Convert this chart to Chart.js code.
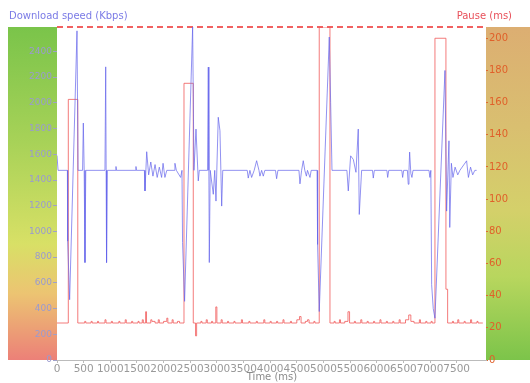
<!DOCTYPE html>
<html>
<head>
<meta charset="utf-8">
<script src="https://cdn.jsdelivr.net/npm/chart.js@4/dist/chart.umd.min.js"></script>
<style>
  body { margin: 0; background: #fff; }
  #wrap { width: 530px; height: 383px; position: relative; }
</style>
</head>
<body>
<div id="wrap"><canvas id="speedChart"></canvas></div>
<script>
// Download speed (Kbps) samples, time in ms
var speedTime = [0, 20, 195, 200, 237, 375, 395, 480, 494, 510, 525, 540, 900, 914, 922, 930, 945,
  1100, 1107, 1115, 1475, 1482, 1490, 1640, 1651, 1683, 1720, 1760, 1800, 1840, 1880, 1920, 1963, 1990, 2025, 2060,
  2200, 2213, 2240, 2320, 2345, 2356, 2394, 2545, 2570, 2608, 2651, 2670,
  2825, 2839, 2850, 2858, 2875, 2933, 2960, 2983, 3026, 3058, 3090, 3110,
  3570, 3589, 3620, 3652, 3700, 3746, 3790, 3808, 3840, 3871, 3900, 4100, 4121, 4145,
  4540, 4559, 4590, 4621, 4650, 4680, 4700, 4747, 4770, 4880, 4890, 4921, 5109, 5135, 5160,
  5440, 5466, 5510, 5560, 5610, 5653, 5672, 5716, 5920, 5935, 5955, 6190, 6205, 6225, 6470, 6486, 6505,
  6575, 6591, 6605, 6617, 6640, 6660, 6680, 6980, 6998, 7015, 7030, 7060, 7092, 7280, 7311, 7355, 7370,
  7400, 7430, 7470, 7520, 7560, 7686, 7720, 7760, 7800, 7840, 7874];
var speedKbps = [1590, 1475, 1475, 924, 469, 2560, 1475, 1475, 1843, 1475, 758, 1475, 1475, 2280, 1475, 758, 1475,
  1475, 1505, 1475, 1475, 1505, 1475, 1475, 1315, 1620, 1440, 1540, 1430, 1520, 1420, 1500, 1420, 1530, 1420, 1475,
  1475, 1530, 1475, 1420, 1475, 914, 456, 2590, 1475, 1796, 1393, 1475,
  1475, 2278, 1475, 758, 1475, 1289, 1475, 1236, 1888, 1783, 1197, 1475,
  1475, 1415, 1475, 1420, 1475, 1550, 1475, 1430, 1475, 1430, 1475, 1475, 1410, 1475,
  1475, 1370, 1475, 1550, 1475, 1430, 1475, 1420, 1475, 1475, 898, 377, 2512, 2000, 1475,
  1475, 1315, 1588, 1560, 1460, 1796, 1132, 1475, 1475, 1415, 1475, 1475, 1420, 1475, 1475, 1420, 1475,
  1475, 1367, 1475, 1617, 1450, 1420, 1475, 1475, 1420, 1475, 586, 400, 325, 2252, 1158, 1705, 1031,
  1530, 1420, 1500, 1440, 1475, 1549, 1420, 1500, 1440, 1475, 1475];

// Pause (ms), held until the next sample
var pauseTime = [0, 212, 390,
  520, 540, 640, 660, 760, 780, 900, 920, 1020, 1040, 1160, 1180, 1280, 1300, 1400, 1420, 1520, 1540,
  1600, 1620, 1663, 1680, 1760, 1780, 1840, 1900, 1920, 2000, 2060, 2080, 2160, 2180, 2260, 2300,
  2383, 2557, 2600, 2620, 2700, 2720, 2800, 2820, 2900, 2920, 2980, 3000, 3080, 3100, 3200, 3220,
  3320, 3340, 3460, 3480, 3600, 3620, 3740, 3760, 3880, 3900, 4000, 4020, 4120, 4140, 4240, 4260,
  4380, 4400, 4500, 4550, 4580, 4660, 4700, 4730, 4820, 4840,
  4921, 5122, 5200, 5220, 5300, 5320, 5400, 5460, 5490, 5580, 5600, 5700, 5720, 5820, 5840,
  5940, 5960, 6060, 6080, 6180, 6200, 6300, 6320, 6420, 6440, 6540, 6600, 6640, 6700, 6800, 6820,
  6920, 6940, 7020, 7040,
  7092, 7298, 7330, 7420, 7440, 7520, 7540, 7640, 7660, 7760, 7780, 7880, 7900, 7990];
var pauseMs = [23, 162, 23,
  24, 23, 24, 23, 24, 23, 25, 23, 24, 23, 24, 23, 25, 23, 24, 23, 24, 23,
  25, 23, 30, 23, 25, 24, 23, 25, 23, 24, 26, 23, 25, 23, 24, 23,
  172, 23, 15, 23, 24, 23, 25, 23, 24, 23, 33, 23, 25, 23, 24, 23,
  24, 23, 25, 23, 24, 23, 24, 23, 25, 23, 24, 23, 24, 23, 25, 23,
  24, 23, 25, 27, 23, 24, 25, 23, 24, 23,
  207, 23, 24, 23, 25, 23, 24, 30, 23, 24, 23, 25, 23, 24, 23,
  24, 23, 25, 23, 24, 23, 24, 23, 25, 23, 25, 28, 24, 23, 25, 23,
  24, 23, 24, 23,
  200, 44, 23, 24, 23, 25, 23, 24, 23, 25, 23, 24, 23, 23];

// max pause marker
var maxPauseTime = [0, 8050];
var maxPause = [207, 207];

// tick labels
var timeTicks = [0, 500, 1000, 1500, 2000, 2500, 3000, 3500, 4000, 4500, 5000, 5500, 6000, 6500, 7000, 7500];
var speedTicks = [0, 200, 400, 600, 800, 1000, 1200, 1400, 1600, 1800, 2000, 2200, 2400];
var pauseTicks = [0, 20, 40, 60, 80, 100, 120, 140, 160, 180, 200];

function pts(xs, ys) {
  return xs.map(function (x, i) { return { x: x, y: ys[i] }; });
}
function fixTicks(list) {
  return function (s) { s.ticks = list.map(function (v) { return { value: v }; }); };
}

// coloured bands behind the two y axes
const sidePanels = {
  id: 'sidePanels',
  beforeDraw(chart) {
    const ctx = chart.ctx, a = chart.chartArea, w = chart.width;
    ctx.save();
    let g = ctx.createLinearGradient(0, a.top, 0, a.bottom);
    g.addColorStop(0, '#7ac44a');
    g.addColorStop(0.35, '#a8d258');
    g.addColorStop(0.65, '#d8e066');
    g.addColorStop(0.8, '#ecc472');
    g.addColorStop(1, '#ec8078');
    ctx.fillStyle = g;
    ctx.fillRect(8, a.top, a.left - 8, a.bottom - a.top);

    g = ctx.createLinearGradient(0, a.top, 0, a.bottom);
    g.addColorStop(0, '#dcae72');
    g.addColorStop(0.3, '#d9bf70');
    g.addColorStop(0.55, '#d4d06a');
    g.addColorStop(0.75, '#b8d65e');
    g.addColorStop(1, '#7cc44a');
    ctx.fillStyle = g;
    ctx.fillRect(a.right, a.top, w - a.right, a.bottom - a.top);
    ctx.restore();
  },
  afterDraw(chart) {
    const ctx = chart.ctx;
    ctx.save();
    ctx.font = '10px "DejaVu Sans"';
    ctx.textBaseline = 'middle';
    ctx.fillStyle = '#7b7be6';
    ctx.textAlign = 'left';
    ctx.fillText('Download speed (Kbps)', 9, 16);
    ctx.fillStyle = '#e8505a';
    ctx.textAlign = 'right';
    ctx.fillText('Pause (ms)', 512, 16);
    ctx.fillStyle = '#8a8a8a';
    ctx.textAlign = 'center';
    ctx.fillText('Time (ms)', 272, 377);
    ctx.restore();
  }
};

const ctx = document.getElementById('speedChart').getContext('2d');
const speedChart = new Chart(ctx, {
  type: 'line',
  data: {
    datasets: [
      {
        label: 'Download speed (Kbps)',
        data: pts(speedTime, speedKbps),
        yAxisID: 'ySpeed',
        borderColor: 'rgba(100, 100, 235, 0.7)',
        borderWidth: 1,
        pointRadius: 0,
        tension: 0
      },
      {
        label: 'Pause (ms)',
        data: pts(pauseTime, pauseMs),
        yAxisID: 'yPause',
        borderColor: 'rgba(240, 90, 90, 0.8)',
        borderWidth: 1,
        pointRadius: 0,
        stepped: 'before'
      },
      {
        label: 'Max pause',
        data: pts(maxPauseTime, maxPause),
        yAxisID: 'yPause',
        borderColor: 'rgba(240, 80, 80, 0.9)',
        borderWidth: 2,
        borderDash: [6, 4],
        pointRadius: 0,
        clip: false
      }
    ]
  },
  plugins: [sidePanels],
  options: {
    responsive: true,
    maintainAspectRatio: false,
    animation: false,
    layout: { padding: { top: 27, left: 0, right: 0, bottom: 0 } },
    plugins: {
      legend: { display: false },
      tooltip: { enabled: false }
    },
    scales: {
      x: {
        type: 'linear',
        min: 0,
        max: 8050,
        afterBuildTicks: fixTicks(timeTicks),
        afterFit: function (s) { s.height = 23; },
        grid: { drawOnChartArea: false, tickLength: 3, color: '#bbbbbb' },
        border: { color: '#bbbbbb' },
        ticks: {
          autoSkip: false,
          maxRotation: 0,
          padding: 0,
          color: '#999999',
          font: { family: 'DejaVu Sans', size: 10.5 },
          callback: function (v) { return String(v); }
        }
      },
      ySpeed: {
        position: 'left',
        min: 0,
        max: 2590,
        afterBuildTicks: fixTicks(speedTicks),
        afterFit: function (s) { s.width = 57; },
        grid: { drawOnChartArea: false, tickLength: 4, color: '#a0a0c8' },
        border: { display: false },
        ticks: {
          autoSkip: false,
          padding: 1,
          color: '#9a9ad0',
          font: { family: 'DejaVu Sans', size: 9 },
          callback: function (v) { return String(v); }
        }
      },
      yPause: {
        position: 'right',
        min: 0,
        max: 207,
        afterBuildTicks: fixTicks(pauseTicks),
        afterFit: function (s) { s.width = 44; },
        grid: { drawOnChartArea: false, tickLength: 2, color: '#e06a30' },
        border: { display: false },
        ticks: {
          autoSkip: false,
          padding: 1,
          color: '#e0602a',
          font: { family: 'DejaVu Sans', size: 10 }
        }
      }
    }
  }
});
</script>
</body>
</html>
